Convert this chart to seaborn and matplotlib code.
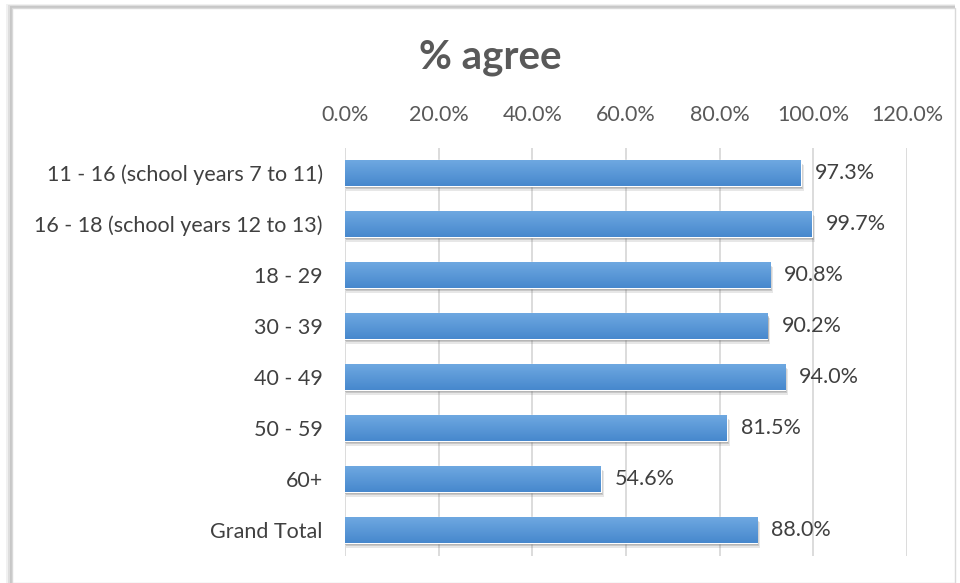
import matplotlib
matplotlib.use("Agg")
import matplotlib.pyplot as plt
import seaborn as sns
import pandas as pd
import numpy as np
from matplotlib.patches import Rectangle
from matplotlib.colors import LinearSegmentedColormap

categories = ["11 - 16 (school years 7 to 11)", "16 - 18 (school years 12 to 13)",
              "18 - 29", "30 - 39", "40 - 49", "50 - 59", "60+", "Grand Total"]
values = [97.3, 99.7, 90.8, 90.2, 94.0, 81.5, 54.6, 88.0]
ticks = [0, 20, 40, 60, 80, 100, 120]
tick_labels = ["0.0%", "20.0%", "40.0%", "60.0%", "80.0%", "100.0%", "120.0%"]

df = pd.DataFrame({"cat": categories, "val": values})

sns.set_theme(style="white")
plt.rcParams["font.family"] = ["Lato", "DejaVu Sans"]

fig = plt.figure(figsize=(9.6, 5.83), dpi=100)
# outer frame with shadow
for k, a in enumerate([0.15, 0.25, 0.4]):
    fig.patches.append(Rectangle(((6 + 2 * k) / 960, 0), (949 - 2 * k) / 960, 1 - (4 + k) / 583,
                                 transform=fig.transFigure, facecolor="#A6A6A6",
                                 edgecolor="none", alpha=a, zorder=-3))
fig.patches.append(Rectangle((12 / 960, 0), 943 / 960, 1 - 8 / 583, transform=fig.transFigure,
                             facecolor="white", edgecolor="#D9D9D9", linewidth=1, zorder=-2))

ax = fig.add_axes([345 / 960, 1 - 555.5 / 583, 562 / 960, (555.5 - 147.5) / 583])
ax.set_zorder(2)
ax.set_facecolor("none")

sns.barplot(data=df, x="val", y="cat", orient="h", color="#5B9BD5", width=0.5,
            saturation=1, ax=ax, zorder=3)

# gradient + soft shadow on each bar
grad = np.linspace(0, 1, 64).reshape(-1, 1)
cmap = LinearSegmentedColormap.from_list("g", ["#6EA8E1", "#4788CD"])
for p in list(ax.patches):
    x0, y0 = p.get_x(), p.get_y()
    w, h = p.get_width(), p.get_height()
    for dx, dy, a in [(0.9, 0.1, 0.12), (0.6, 0.07, 0.18), (0.35, 0.045, 0.25)]:
        ax.add_patch(Rectangle((x0 + dx * 0.3, y0 + dy), w + dx * 0.4, h, facecolor="#404040",
                               alpha=a, edgecolor="none", zorder=2))
    im = ax.imshow(grad, cmap=cmap, aspect="auto", extent=(x0, x0 + w, y0 + h, y0),
                   zorder=3.5, origin="upper")
    im.set_clip_path(p)

for i, v in enumerate(values):
    ax.text(v + 3.0, i, f"{v:.1f}%", va="center", ha="left", fontsize=15.5,
            color="#404040", zorder=5)

ax.set_xlim(0, 120)
ax.set_ylim(7.5, -0.5)
ax.set_xticks(ticks)
ax.set_xticklabels(tick_labels)
ax.xaxis.tick_top()
ax.tick_params(axis="x", length=0, pad=16, labelsize=15.5, labelcolor="#595959")
ax.tick_params(axis="y", length=0, pad=16, labelsize=15.5, labelcolor="#404040")
ax.set_xlabel("")
ax.set_ylabel("")
ax.grid(axis="x", color="#D9D9D9", linewidth=1.3, zorder=0)
ax.grid(axis="y", visible=False)
ax.set_axisbelow(True)
for s in ax.spines.values():
    s.set_visible(False)

fig.text(490 / 960, 1 - 57 / 583, "% agree", ha="center", va="center", fontsize=29,
         fontweight="bold", color="#595959")

fig.savefig("out.png", dpi=100)
